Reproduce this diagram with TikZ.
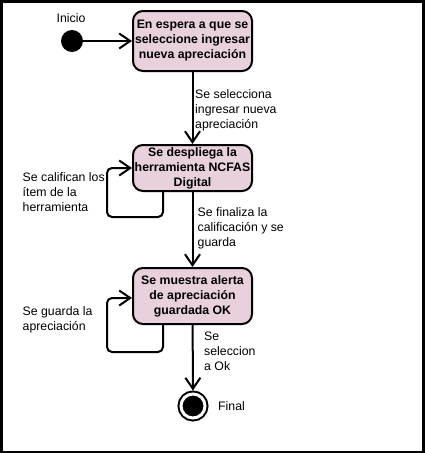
\documentclass[tikz,border=0pt]{standalone}
\usepackage{fontspec}
\setmainfont{Liberation Sans}
\usetikzlibrary{arrows.meta}
\definecolor{statefill}{RGB}{232,208,220}
\tikzset{
	state/.style={draw=black, fill=statefill, line width=2pt, rounded corners=10pt,
		minimum width=119pt, align=center, inner sep=0pt,
		font=\fontsize{12.3}{15}\selectfont\bfseries},
	initial/.style={circle, fill=black, minimum size=22pt, inner sep=0pt},
	final/.style={circle, draw=black, fill=black, line width=2pt, double=white,
		double distance=3pt, minimum size=24pt, inner sep=0pt, outer sep=3.5pt},
	trans/.style={draw=black, line width=2pt, -{Straight Barb[length=11pt,width=15pt,line width=2pt]}},
	lbl/.style={anchor=north west, align=left, inner sep=0pt,
		font=\fontsize{12.3}{15}\selectfont},
}
\begin{document}
\begin{tikzpicture}[x=1pt, y=-1pt]
	\useasboundingbox (0,0) rectangle (425,453);
	\draw[line width=2.5pt] (1.25,1.25) rectangle (423.5,451.8);
	% states
	\node[initial] (inicio) at (72,41) {};
	\node[state, minimum height=60pt] (espera) at (192.5,41) {En espera a que se\\seleccione ingresar\\nueva apreciaci\'on};
	\node[state, minimum height=46pt] (despliega) at (192.5,168) {Se despliega la\\herramienta NCFAS\\Digital};
	\node[state, minimum height=56pt] (alerta) at (192.5,296) {Se muestra alerta\\de apreciaci\'on\\guardada OK};
	\node[final] (final) at (193,406) {};
	% transitions
	\draw[trans] (inicio) -- (espera.west);
	\draw[trans] (espera) -- (despliega);
	\draw[trans] (despliega) -- (alerta);
	\draw[trans] (alerta) -- (final);
	\draw[trans, rounded corners=5pt] ([xshift=-29.5pt]despliega.south) -- ++(0,25) -| ([xshift=-25pt]despliega.west) -- (despliega.west);
	\draw[trans, rounded corners=5pt] ([xshift=-29.5pt]alerta.south) -- ++(0,27) -| ([xshift=-25pt,yshift=-2pt]alerta.west) -- ([yshift=-2pt]alerta.west);
	% labels
	\node[font=\fontsize{12.3}{15}\selectfont] (inicio lbl) at (71,18) {Inicio};
	\node[lbl] (sel lbl) at (195,89) {Se selecciona\\ingresar nueva\\apreciaci\'on};
	\node[lbl] (cal lbl) at (22.5,172.5) {Se califican los\\\'item de la\\herramienta};
	\node[lbl] (fin lbl) at (197.5,207.5) {Se finaliza la\\calificaci\'on y se\\guarda};
	\node[lbl] (gua lbl) at (22.5,306.5) {Se guarda la\\apreciaci\'on};
	\node[lbl] (ok lbl) at (204,331.5) {Se\\seleccion\\a Ok};
	\node[font=\fontsize{12.3}{15}\selectfont, anchor=west, inner sep=0pt] (final lbl) at (218,406) {Final};
\end{tikzpicture}
\end{document}
